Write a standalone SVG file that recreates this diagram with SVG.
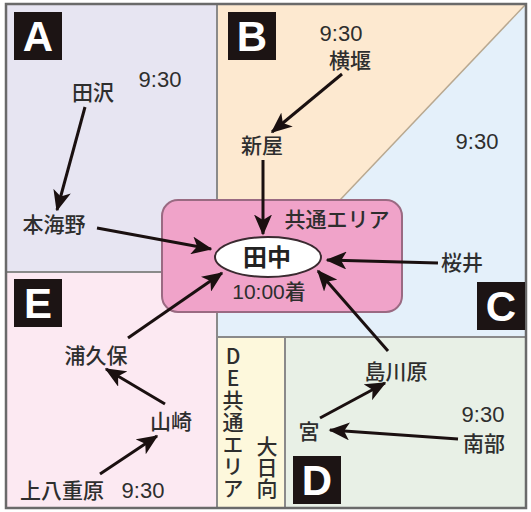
<svg xmlns="http://www.w3.org/2000/svg" width="531" height="512" viewBox="0 0 531 512">
<style>
.lbl{font-family:"Noto Sans CJK JP","Liberation Sans",sans-serif;font-size:21px;font-weight:500;fill:#2e2e2e;text-anchor:middle}
.tm{font-family:"Liberation Sans","Noto Sans CJK JP",sans-serif;font-size:22px;fill:#2e2e2e;text-anchor:middle}
.vt{font-family:"Noto Sans CJK JP","Liberation Sans",sans-serif;font-size:21px;font-weight:500;fill:#2e2e2e;writing-mode:vertical-rl;text-orientation:upright}
.box{fill:#1c1414}
.let{font-family:"Liberation Sans",Arial,sans-serif;font-weight:bold;font-size:42px;fill:#fff;text-anchor:middle}
.div{stroke:#8a8a8a;stroke-width:2;fill:none}
.arr{stroke:#1a1010;stroke-width:3;fill:none;marker-end:url(#ah)}
</style>
<defs>
<marker id="ah" markerWidth="7" markerHeight="6" refX="6.5" refY="3" orient="auto" markerUnits="strokeWidth">
<path d="M0,0 L7,3 L0,6 L1.8,3 Z" fill="#1a1010"/>
</marker>
</defs>
<rect x="0" y="0" width="531" height="512" fill="#fff"/>
<g id="regions">
<rect x="6" y="4" width="211" height="268" fill="#e7e5f2"/>
<rect x="217" y="4" width="309" height="333" fill="#e4f0fa"/>
<polygon points="217,4 526,4 340,200 217,200" fill="#fde9d0"/>
<rect x="6" y="272" width="211" height="236" fill="#fce9f2"/>
<rect x="217" y="337" width="68" height="171" fill="#fdf8dc"/>
<rect x="285" y="337" width="241" height="171" fill="#e8f0e6"/>
<line class="div" x1="217" y1="4" x2="217" y2="508"/>
<line class="div" x1="6" y1="272" x2="217" y2="272"/>
<line class="div" x1="217" y1="337" x2="526" y2="337"/>
<line class="div" x1="285" y1="337" x2="285" y2="508"/>
<line x1="526" y1="4" x2="340" y2="200" stroke="#b8a890" stroke-width="1.5"/>
<rect x="6" y="4" width="520" height="504" fill="none" stroke="#6a6a6a" stroke-width="2.5"/>
</g>
<g id="area-A"><rect class="box" x="14" y="12" width="48" height="48"/><text class="let" x="38" y="51">A</text></g>
<g id="area-B"><rect class="box" x="228" y="12" width="48" height="48"/><text class="let" x="252" y="51">B</text></g>
<g id="area-C"><rect class="box" x="477" y="282" width="48" height="48"/><text class="let" x="501" y="321">C</text></g>
<g id="area-D"><rect class="box" x="293" y="456" width="48" height="48"/><text class="let" x="317" y="495">D</text></g>
<g id="area-E"><rect class="box" x="14" y="279" width="48" height="48"/><text class="let" x="38" y="318">E</text></g>
<g id="common-area">
<rect x="162" y="200" width="240" height="112" rx="16" fill="#f0a3c9" stroke="#9a6a82" stroke-width="2"/>
<text class="lbl" x="337" y="227">共通エリア</text>
</g>
<g id="tanaka">
<ellipse cx="268" cy="257" rx="53" ry="20" fill="#fff" stroke="#3a2a30" stroke-width="2"/>
<text class="lbl" x="267" y="266" style="font-size:24px;font-weight:bold;fill:#222">田中</text>
<text class="tm" x="269" y="299" style="font-size:21px">10:00<tspan style="font-family:'Noto Sans CJK JP',sans-serif;font-weight:500">着</tspan></text>
</g>
<g id="A-time"><text class="tm" x="160" y="87">9:30</text></g>
<g id="tazawa"><text class="lbl" x="93" y="100">田沢</text></g>
<g id="honkaino"><text class="lbl" x="54" y="232">本海野</text></g>
<g id="yokozeki"><text class="tm" x="341" y="41">9:30</text><text class="lbl" x="350" y="68">横堰</text></g>
<g id="araya"><text class="lbl" x="262" y="153">新屋</text></g>
<g id="C-time"><text class="tm" x="477" y="149">9:30</text></g>
<g id="sakurai"><text class="lbl" x="462" y="270">桜井</text></g>
<g id="urakubo"><text class="lbl" x="96" y="363">浦久保</text></g>
<g id="yamazaki"><text class="lbl" x="171" y="429">山崎</text></g>
<g id="kamiyaehara"><text class="lbl" x="62" y="498">上八重原</text><text class="tm" x="143" y="498">9:30</text></g>
<g id="shimakawara"><text class="lbl" x="396" y="379">島川原</text></g>
<g id="miya"><text class="lbl" x="309" y="439">宮</text></g>
<g id="nanbu"><text class="tm" x="483" y="422">9:30</text><text class="lbl" x="484" y="451">南部</text></g>
<g id="de-common">
<text class="vt" x="233" y="346" style="letter-spacing:1px">DE共通エリア</text>
</g>
<g id="ohinata">
<text class="vt" x="267" y="436" style="letter-spacing:0px">大日向</text>
</g>
<g id="connectors">
<line class="arr" x1="85" y1="107" x2="57" y2="210"/>
<line class="arr" x1="97" y1="228" x2="211" y2="249"/>
<line class="arr" x1="342" y1="74" x2="272" y2="132"/>
<line class="arr" x1="263" y1="160" x2="263" y2="234"/>
<line class="arr" x1="438" y1="263" x2="327" y2="260"/>
<line class="arr" x1="388" y1="351" x2="318" y2="271"/>
<line class="arr" x1="128" y1="338" x2="222" y2="273"/>
<line class="arr" x1="165" y1="404" x2="106" y2="369"/>
<line class="arr" x1="100" y1="474" x2="157" y2="436"/>
<line class="arr" x1="320" y1="418" x2="385" y2="383"/>
<line class="arr" x1="458" y1="439" x2="330" y2="430"/>
</g>
</svg>
